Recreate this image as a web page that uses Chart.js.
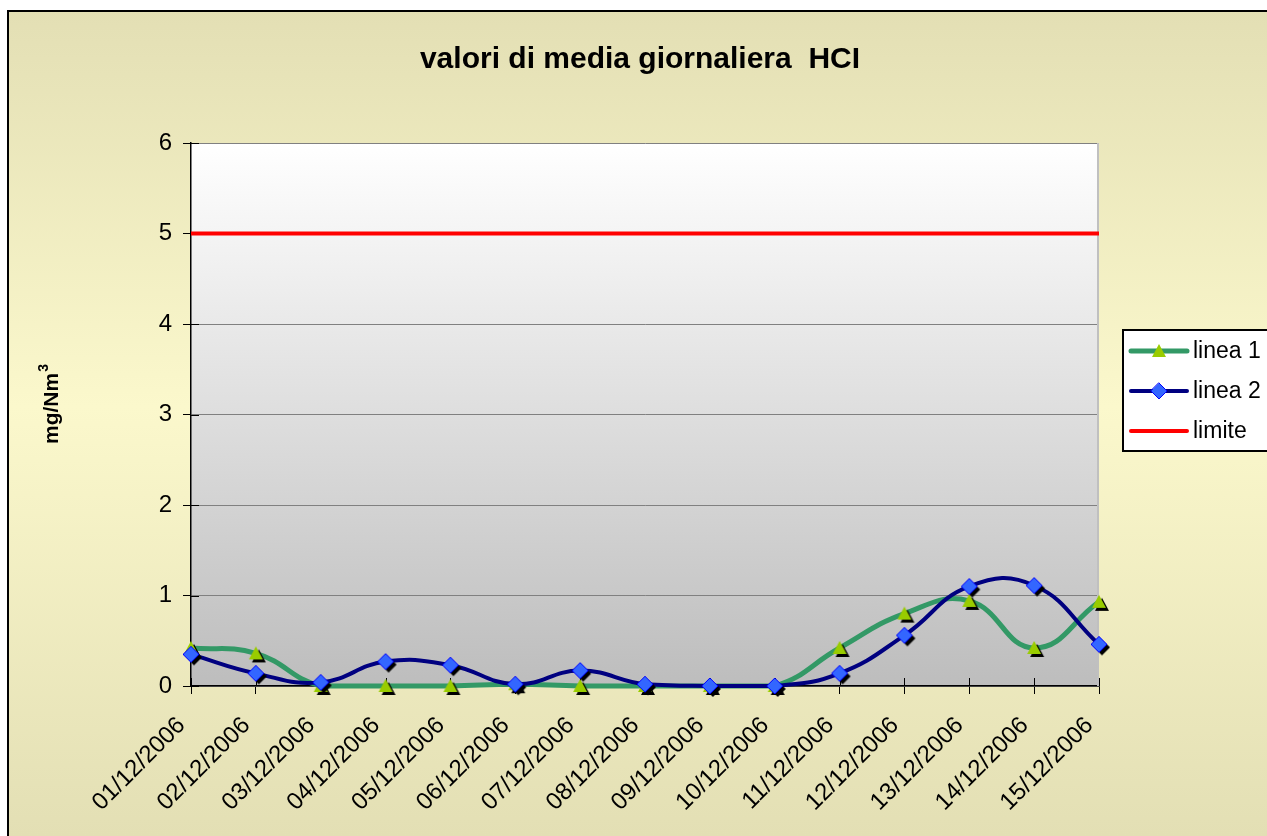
<!DOCTYPE html>
<html>
<head>
<meta charset="utf-8">
<title>valori di media giornaliera HCI</title>
<script src="https://cdn.jsdelivr.net/npm/chart.js@4.4.1/dist/chart.umd.min.js"></script>
<style>
  html, body { margin: 0; padding: 0; background: #ffffff; }
  #wrap { width: 1267px; height: 836px; position: relative; }
</style>
</head>
<body>
<div id="wrap"><canvas id="hclChart" width="1267" height="836"></canvas></div>
<script>
// dati
const categories = [
  "01/12/2006", "02/12/2006", "03/12/2006", "04/12/2006", "05/12/2006",
  "06/12/2006", "07/12/2006", "08/12/2006", "09/12/2006", "10/12/2006",
  "11/12/2006", "12/12/2006", "13/12/2006", "14/12/2006", "15/12/2006",
];
const linea1 = [0.42, 0.36, 0.0, 0.0, 0.0, 0.02, 0.0, 0.0, 0.0, 0.0, 0.42, 0.8, 0.94, 0.42, 0.93];
const linea2 = [0.35, 0.14, 0.04, 0.27, 0.23, 0.02, 0.17, 0.02, 0.0, 0.0, 0.14, 0.56, 1.1, 1.11, 0.46];
const limite = [5, 5, 5, 5, 5, 5, 5, 5, 5, 5, 5, 5, 5, 5, 5];
const yTicks = [0, 1, 2, 3, 4, 5, 6];

const FONT = "'Liberation Sans', Arial, sans-serif";

// draws a marker shape centred on (x, y)
function drawShape(ctx, shape, x, y, r) {
  ctx.beginPath();
  if (shape === "triangle") {
    ctx.moveTo(x, y - r);
    ctx.lineTo(x + r, y + r * 0.85);
    ctx.lineTo(x - r, y + r * 0.85);
  } else {
    ctx.moveTo(x, y - r);
    ctx.lineTo(x + r, y);
    ctx.lineTo(x, y + r);
    ctx.lineTo(x - r, y);
  }
  ctx.closePath();
}

// marker image with the black Excel-like shadow
function makeMarker(shape, fill, stroke, r) {
  const off = 3;
  const c = document.createElement("canvas");
  const half = Math.ceil(r + off + 1);
  c.width = half * 2;
  c.height = half * 2;
  const ctx = c.getContext("2d");
  drawShape(ctx, shape, half + off, half + off, r);
  ctx.fillStyle = "#000000";
  ctx.fill();
  drawShape(ctx, shape, half, half, r);
  ctx.fillStyle = fill;
  ctx.fill();
  if (stroke) {
    ctx.strokeStyle = stroke;
    ctx.lineWidth = 1;
    ctx.stroke();
  }
  return c;
}

const legendMarkers = [
  { shape: "triangle", fill: "#99CC00", stroke: null, r: 7 },
  { shape: "diamond", fill: "#3366FF", stroke: "#0000FF", r: 8 },
  null,
];

// backgrounds, frame, titles and legend
const excelLook = {
  id: "excelLook",
  beforeDraw(chart) {
    const { ctx, chartArea } = chart;
    ctx.save();
    ctx.fillStyle = "#ffffff";
    ctx.fillRect(0, 0, chart.width, chart.height);

    const bg = ctx.createLinearGradient(0, 10, 0, chart.height);
    bg.addColorStop(0, "#E3DFB4");
    bg.addColorStop(0.48, "#FBF8CC");
    bg.addColorStop(1, "#E3DFB4");
    ctx.fillStyle = bg;
    ctx.fillRect(8, 11, chart.width, chart.height);
    ctx.strokeStyle = "#000000";
    ctx.lineWidth = 2;
    ctx.strokeRect(8, 11, chart.width + 10, chart.height + 10);

    const pg = ctx.createLinearGradient(0, chartArea.top, 0, chartArea.bottom);
    pg.addColorStop(0, "#FFFFFF");
    pg.addColorStop(1, "#BDBDBD");
    ctx.fillStyle = pg;
    ctx.fillRect(chartArea.left, chartArea.top, chartArea.width, chartArea.height);
    ctx.restore();
  },
  beforeDatasetsDraw(chart) {
    const { ctx, chartArea, scales } = chart;
    ctx.save();
    // gray right border of the plot area
    ctx.strokeStyle = "#C0C0C0";
    ctx.lineWidth = 2;
    ctx.beginPath();
    ctx.moveTo(chartArea.right - 1, chartArea.top);
    ctx.lineTo(chartArea.right - 1, chartArea.bottom);
    ctx.stroke();
    // inner halves of the cross tick marks
    ctx.strokeStyle = "#000000";
    ctx.lineWidth = 1;
    ctx.beginPath();
    scales.x.ticks.forEach((t, i) => {
      const px = Math.round(scales.x.getPixelForTick(i)) + 0.5;
      ctx.moveTo(px, chartArea.bottom - 8);
      ctx.lineTo(px, chartArea.bottom);
    });
    scales.y.ticks.forEach((t, i) => {
      const py = Math.round(scales.y.getPixelForTick(i)) + 0.5;
      ctx.moveTo(chartArea.left, py);
      ctx.lineTo(chartArea.left + 8, py);
    });
    ctx.stroke();
    ctx.restore();
  },
  afterDraw(chart) {
    const { ctx } = chart;
    ctx.save();
    ctx.fillStyle = "#000000";

    // main title
    ctx.font = "bold 30px " + FONT;
    ctx.textAlign = "center";
    ctx.textBaseline = "alphabetic";
    ctx.fillText("valori di media giornaliera  HCI", 640, 68);

    // y axis title with superscript
    ctx.translate(58, 444);
    ctx.rotate(-Math.PI / 2);
    ctx.textAlign = "left";
    ctx.font = "bold 21px " + FONT;
    ctx.fillText("mg/Nm", 0, 0);
    const w = ctx.measureText("mg/Nm").width;
    ctx.font = "bold 14px " + FONT;
    ctx.fillText("3", w + 1, -10);
    ctx.setTransform(1, 0, 0, 1, 0, 0);

    // legend
    const lx = 1123, ly = 330;
    ctx.fillStyle = "#ffffff";
    ctx.fillRect(lx, ly, 170, 121);
    ctx.strokeStyle = "#000000";
    ctx.lineWidth = 2;
    ctx.strokeRect(lx, ly, 170, 121);
    chart.data.datasets.forEach((ds, i) => {
      const y = ly + 21 + i * 40;
      ctx.strokeStyle = ds.borderColor;
      ctx.lineWidth = ds.borderWidth;
      ctx.lineCap = "round";
      ctx.beginPath();
      ctx.moveTo(1131, y);
      ctx.lineTo(1187, y);
      ctx.stroke();
      const m = legendMarkers[i];
      if (m) {
        drawShape(ctx, m.shape, 1159, y, m.r);
        ctx.fillStyle = m.fill;
        ctx.fill();
        if (m.stroke) {
          ctx.strokeStyle = m.stroke;
          ctx.lineWidth = 1;
          ctx.stroke();
        }
      }
      ctx.fillStyle = "#000000";
      ctx.font = "23px " + FONT;
      ctx.textAlign = "left";
      ctx.textBaseline = "middle";
      ctx.fillText(ds.label, 1193, y + 1);
    });
    ctx.restore();
  },
};

const ctx = document.getElementById("hclChart").getContext("2d");
window.hclChartInstance = new Chart(ctx, {
  type: "line",
  data: {
    labels: categories,
    datasets: [
      {
        label: "linea 1",
        data: linea1,
        borderColor: "#339966",
        borderWidth: 5,
        tension: 0.45,
        pointStyle: makeMarker("triangle", "#99CC00", null, 7),
        pointRadius: 8,
        clip: false,
        order: 2,
      },
      {
        label: "linea 2",
        data: linea2,
        borderColor: "#000080",
        borderWidth: 4,
        tension: 0.45,
        pointStyle: makeMarker("diamond", "#3366FF", "#0000FF", 8),
        pointRadius: 8,
        clip: false,
        order: 1,
      },
      {
        label: "limite",
        data: limite,
        borderColor: "#FF0000",
        borderWidth: 4,
        pointRadius: 0,
        tension: 0,
        order: 3,
      },
    ],
  },
  options: {
    responsive: false,
    animation: false,
    events: [],
    layout: { padding: { top: 143, right: 168, bottom: 0, left: 0 } },
    scales: {
      x: {
        offset: false,
        grid: { display: true, drawOnChartArea: false, drawTicks: true, tickLength: 8, tickColor: "#000000", tickWidth: 1 },
        border: { display: true, color: "#000000", width: 1.5 },
        ticks: {
          autoSkip: false,
          maxRotation: 45,
          minRotation: 45,
          padding: 8,
          color: "#000000",
          font: { family: FONT, size: 24 },
          // trailing spaces push the rotated text down-left like Excel
          callback: function (value) {
            return this.getLabelForValue(value) + "  ";
          },
        },
        afterFit: (scale) => { scale.height = 150; },
      },
      y: {
        min: 0,
        max: 6,
        afterBuildTicks: (scale) => { scale.ticks = yTicks.map((v) => ({ value: v })); },
        grid: { color: "#808080", lineWidth: 1, drawTicks: true, tickLength: 8, tickColor: "#000000" },
        border: { display: true, color: "#000000", width: 1.5 },
        ticks: {
          padding: 11,
          color: "#000000",
          font: { family: FONT, size: 24 },
        },
        afterFit: (scale) => { scale.width = 191; },
      },
    },
    plugins: {
      legend: { display: false },
      title: { display: false },
      tooltip: { enabled: false },
    },
  },
  plugins: [excelLook],
});
</script>
</body>
</html>
